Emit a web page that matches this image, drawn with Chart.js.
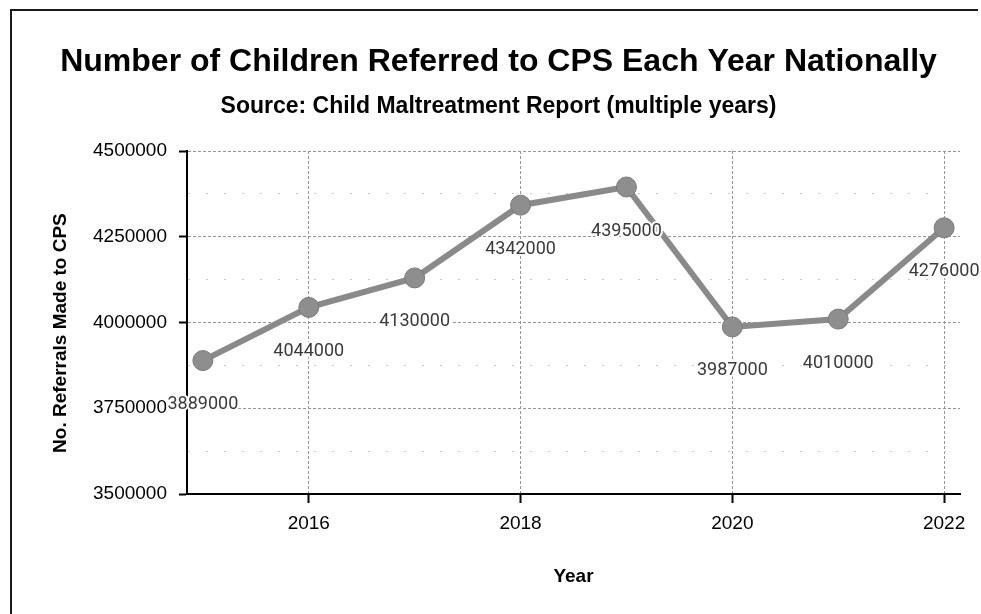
<!DOCTYPE html>
<html>
<head>
<meta charset="utf-8">
<title>Number of Children Referred to CPS Each Year Nationally</title>
<script src="https://cdn.jsdelivr.net/npm/chart.js@4.4.0/dist/chart.umd.min.js"></script>
<style>
    html, body { margin: 0; padding: 0; background: #fff; overflow: hidden; }
    .frame {
        position: absolute;
        left: 10px;
        top: 9px;
        width: 966px;
        height: 620px;
        border-left: 2px solid #1a1a1a;
        border-top: 2px solid #1a1a1a;
    }
    .chart-box {
        position: absolute;
        left: 0;
        top: 0;
        width: 981px;
        height: 614px;
    }
</style>
</head>
<body>
<div class="frame"></div>
<div class="chart-box"><canvas id="cpsChart"></canvas></div>
<script>
// Referral counts per year
const years = [2015, 2016, 2017, 2018, 2019, 2020, 2021, 2022];
const referrals = [3889000, 4044000, 4130000, 4342000, 4395000, 3987000, 4010000, 4276000];
const yearTicks = [2016, 2018, 2020, 2022];
const yMin = 3500000;
const yMax = 4500000;
const yMajorStep = 250000;
const yMinorStep = 125000;

const SANS = "'Liberation Sans', Arial, Helvetica, sans-serif";

// writes each value under its point
const valueLabels = {
    id: 'valueLabels',
    afterDatasetsDraw(chart) {
        const c = chart.ctx;
        const meta = chart.getDatasetMeta(0);
        c.save();
        c.font = "18px Roboto, 'Liberation Sans', sans-serif";
        c.textAlign = 'center';
        c.textBaseline = 'middle';
        c.lineJoin = 'round';
        meta.data.forEach((pt, i) => {
            const txt = String(chart.data.datasets[0].data[i].y);
            c.strokeStyle = '#fff';
            c.lineWidth = 4;
            c.strokeText(txt, pt.x, pt.y + 44);
            c.fillStyle = '#3a3a3a';
            c.fillText(txt, pt.x, pt.y + 44);
        });
        c.restore();
    }
};

// title + subtitle are centred on the page rather than on the plot column
const wideHeadings = {
    id: 'wideHeadings',
    afterLayout(chart) {
        chart.boxes.forEach(b => {
            if (!b.axis && b.options && typeof b.options.text === 'string') {
                b.left = 16;
                b.right = chart.width;
                b.width = b.right - b.left;
            }
        });
    }
};

document.addEventListener('DOMContentLoaded', function() {
    const isMajor = v => v % yMajorStep === 0;

    const ctx = document.getElementById('cpsChart').getContext('2d');
    new Chart(ctx, {
        type: 'line',
        data: {
            datasets: [{
                label: 'Referrals',
                data: years.map((yr, i) => ({ x: yr, y: referrals[i] })),
                borderColor: '#8a8a8a',
                backgroundColor: '#8a8a8a',
                borderWidth: 6,
                pointRadius: 10,
                pointBorderWidth: 1,
                pointBorderColor: '#7a7a7a',
                pointBackgroundColor: '#8e8e8e',
                tension: 0
            }]
        },
        options: {
            responsive: true,
            maintainAspectRatio: false,
            animation: false,
            layout: { padding: { top: 0, right: 21, bottom: 0, left: 0 } },
            plugins: {
                legend: { display: false },
                tooltip: { enabled: false },
                title: {
                    display: true,
                    text: 'Number of Children Referred to CPS Each Year Nationally',
                    color: '#000',
                    font: { family: SANS, size: 32, weight: 'bold' },
                    padding: { top: 43, bottom: 4 }
                },
                subtitle: {
                    display: true,
                    text: 'Source: Child Maltreatment Report (multiple years)',
                    color: '#000',
                    font: { family: SANS, size: 23, weight: 'bold' },
                    padding: { top: 7, bottom: 31 }
                }
            },
            scales: {
                x: {
                    type: 'linear',
                    min: 2014.85,
                    max: 2022.15,
                    afterBuildTicks: scale => {
                        scale.ticks = yearTicks.map(v => ({ value: v }));
                    },
                    afterFit: scale => { scale.height = 120; },
                    ticks: {
                        color: '#000',
                        font: { family: SANS, size: 19 },
                        padding: 9,
                        autoSkip: false,
                        maxRotation: 0,
                        callback: v => String(v)
                    },
                    grid: {
                        color: '#959595',
                        lineWidth: 1,
                        tickLength: 9,
                        tickColor: '#000',
                        tickWidth: 2
                    },
                    border: { display: true, color: '#000', width: 2, dash: [3, 2] },
                    title: {
                        display: true,
                        text: 'Year',
                        color: '#000',
                        font: { family: SANS, size: 19, weight: 'bold' },
                        padding: { top: 26, bottom: 26 }
                    }
                },
                y: {
                    min: yMin,
                    max: yMax,
                    afterFit: scale => { scale.width = 187; },
                    ticks: {
                        stepSize: yMinorStep,
                        autoSkip: false,
                        color: '#000',
                        font: { family: SANS, size: 19 },
                        padding: 12,
                        callback: v => (isMajor(v) ? String(v) : '')
                    },
                    grid: {
                        color: c => (isMajor(c.tick.value) ? '#959595' : '#c8c8c8'),
                        lineWidth: 1,
                        tickLength: 8,
                        tickColor: c => (isMajor(c.tick.value) ? '#000' : 'rgba(0,0,0,0)'),
                        tickWidth: 2
                    },
                    border: {
                        display: true,
                        color: '#000',
                        width: 2,
                        dash: c => (isMajor(c.tick.value) ? [3, 2] : [2, 16])
                    },
                    title: {
                        display: true,
                        // trailing spaces nudge the rotated label a little lower
                        text: 'No. Referrals Made to CPS    ',
                        color: '#000',
                        font: { family: SANS, size: 19, weight: 'bold' },
                        padding: { top: 49, bottom: 0 }
                    }
                }
            }
        },
        plugins: [valueLabels, wideHeadings]
    });
});
</script>
</body>
</html>
